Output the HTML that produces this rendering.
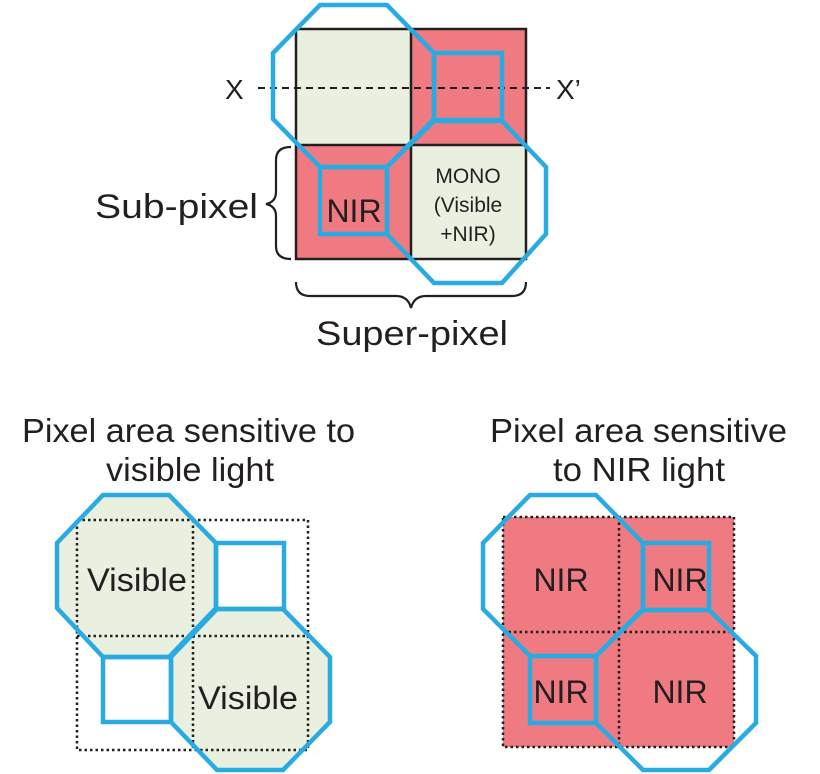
<!DOCTYPE html>
<html><head><meta charset="utf-8"><style>
html,body{margin:0;padding:0;background:#fff;}
svg{display:block;}
text{font-family:"Liberation Sans",sans-serif;fill:#231f20;}
</style></head><body>
<svg width="820" height="774" viewBox="0 0 820 774" xmlns="http://www.w3.org/2000/svg">
<rect x="296" y="29" width="115" height="116" fill="#e9f0df"/>
<rect x="411" y="29" width="115" height="116" fill="#f07a82"/>
<rect x="296" y="145" width="115" height="114" fill="#f07a82"/>
<rect x="411" y="145" width="115" height="114" fill="#e9f0df"/>
<g stroke="#231f20" stroke-width="2.5" fill="none">
<rect x="296" y="29" width="230" height="230"/>
<line x1="411" y1="29" x2="411" y2="259"/>
<line x1="296" y1="145" x2="526" y2="145"/>
</g>
<line x1="258" y1="88" x2="550" y2="88" stroke="#231f20" stroke-width="2" stroke-dasharray="7,5"/>
<g stroke="#29abe2" stroke-width="4.5" fill="none" stroke-linejoin="miter">
<polygon points="320,5 387,5 434,53 434,119 387,167 320,167 273,119 273,53"/>
<polygon points="434,121 502,121 546,167 546,234 502,283 434,283 387,234 387,167"/>
<rect x="434" y="53" width="68" height="67"/>
<rect x="320" y="167" width="67" height="67"/>
</g>
<text x="225" y="99" font-size="28">X</text>
<text x="556" y="99" font-size="28">X’</text>
<text x="354" y="222" font-size="32" text-anchor="middle">NIR</text>
<text x="468" y="183" font-size="21" text-anchor="middle">MONO</text>
<text x="468" y="212" font-size="21" text-anchor="middle">(Visible</text>
<text x="468" y="241" font-size="21" text-anchor="middle">+NIR)</text>
<text x="95" y="218" font-size="34" textLength="163" lengthAdjust="spacingAndGlyphs">Sub-pixel</text>
<path d="M291,147 Q276,147 276,160 L276,192 Q276,202 266,204 Q276,206 276,216 L276,246 Q276,259 291,259" stroke="#231f20" stroke-width="2.2" fill="none"/>
<path d="M296,282 Q296,296 310,296 L396,296 Q408,296 411,308 Q414,296 426,296 L512,296 Q526,296 526,282" stroke="#231f20" stroke-width="2.2" fill="none"/>
<text x="316" y="345" font-size="34" textLength="192" lengthAdjust="spacingAndGlyphs">Super-pixel</text>
<text x="22" y="442" font-size="33" textLength="333" lengthAdjust="spacingAndGlyphs">Pixel area sensitive to</text>
<text x="106" y="481" font-size="33" textLength="168" lengthAdjust="spacingAndGlyphs">visible light</text>
<text x="490" y="442" font-size="33" textLength="297" lengthAdjust="spacingAndGlyphs">Pixel area sensitive</text>
<text x="553" y="481" font-size="33" textLength="172" lengthAdjust="spacingAndGlyphs">to NIR light</text>
<polygon points="103,495 169,495 216,543 216,608 169,657 103,657 57,608 57,543" fill="#e9f0df"/>
<polygon points="217,609 283,609 330,657 330,722 283,770 217,770 171,722 171,657" fill="#e9f0df"/>
<g stroke="#231f20" stroke-width="2.5" fill="none" stroke-dasharray="2.5,3">
<rect x="77" y="520" width="231" height="230"/>
<line x1="193" y1="520" x2="193" y2="750"/>
<line x1="77" y1="636" x2="308" y2="636"/>
</g>
<g stroke="#29abe2" stroke-width="4.5" fill="none">
<polygon points="103,495 169,495 216,543 216,608 169,657 103,657 57,608 57,543"/>
<polygon points="217,609 283,609 330,657 330,722 283,770 217,770 171,722 171,657"/>
<rect x="216" y="543" width="68" height="66"/>
<rect x="103" y="657" width="68" height="65"/>
</g>
<text x="87" y="591" font-size="32" textLength="100" lengthAdjust="spacingAndGlyphs">Visible</text>
<text x="198" y="709" font-size="32" textLength="100" lengthAdjust="spacingAndGlyphs">Visible</text>
<rect x="503" y="517" width="231" height="230" fill="#f07a82"/>
<g stroke="#231f20" stroke-width="2.5" fill="none" stroke-dasharray="2.5,3">
<rect x="503" y="517" width="231" height="230"/>
<line x1="619" y1="517" x2="619" y2="747"/>
<line x1="503" y1="632" x2="734" y2="632"/>
</g>
<g stroke="#29abe2" stroke-width="4.5" fill="none">
<polygon points="530,495 596,495 643,543 643,609 596,656 530,656 483,609 483,543"/>
<polygon points="643,610 709,610 756,656 756,723 709,770 643,770 596,723 596,656"/>
<rect x="643" y="543" width="66" height="67"/>
<rect x="530" y="656" width="66" height="67"/>
</g>
<text x="561" y="591" font-size="32" text-anchor="middle">NIR</text>
<text x="680" y="591" font-size="32" text-anchor="middle">NIR</text>
<text x="561" y="703" font-size="32" text-anchor="middle">NIR</text>
<text x="680" y="703" font-size="32" text-anchor="middle">NIR</text>
</svg>
</body></html>
